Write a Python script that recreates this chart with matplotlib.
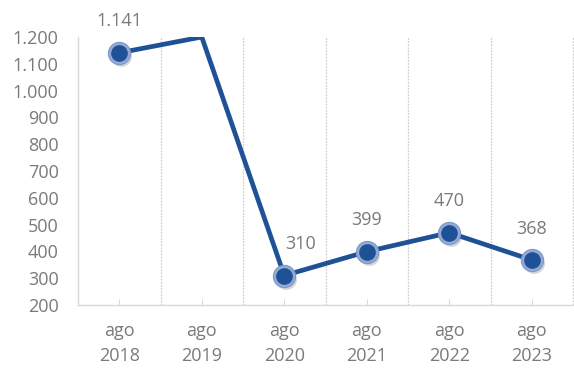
import matplotlib.pyplot as plt
from matplotlib.transforms import ScaledTranslation

# data
labels = ['ago\n2018', 'ago\n2019', 'ago\n2020', 'ago\n2021', 'ago\n2022', 'ago\n2023']
values = [1141, 1200, 310, 399, 470, 368]
show_point = [True, False, True, True, True, True]
label_dx = [0, 0, 12, 0, 0, 0]   # the 310 label sits to the right of its point

line_col = '#1f5196'
halo_col = '#93abd4'
txt_col = '#7a7a7a'
axis_col = '#d9d9d9'

plt.rcParams['font.family'] = ['Open Sans', 'DejaVu Sans']

fig = plt.figure(figsize=(5.74, 3.68), dpi=100)
ax = fig.add_axes([78 / 574, 63 / 368, 495.5 / 574, 268 / 368])

x = list(range(len(values)))
ax.plot(x, values, color=line_col, lw=3.4, solid_joinstyle='miter', zorder=3)

px = [i for i in x if show_point[i]]
py = [values[i] for i in x if show_point[i]]

# shadow, halo and dot
shadow = ax.transData + ScaledTranslation(2 / 100, -3 / 100, fig.dpi_scale_trans)
ax.plot(px, py, 'o', ms=15, color='#8c8c8c', alpha=0.35, mec='none', zorder=2,
        transform=shadow)
ax.plot(px, py, 'o', ms=16, color=halo_col, mec='#7d98c9', mew=0.8, zorder=4)
ax.plot(px, py, 'o', ms=12, color=line_col, mec='none', zorder=5)

for i in px:
    lbl = f'{values[i]:,}'.replace(',', '.')
    ax.annotate(lbl, (i, values[i]), xytext=(label_dx[i], 19), textcoords='offset points',
                ha='center', va='baseline', fontsize=13, color=txt_col)

ax.set_xlim(-0.5, 5.506)
ax.set_ylim(200, 1200)
ax.set_yticks(range(200, 1201, 100))
ax.set_yticklabels([f'{v:,}'.replace(',', '.') for v in range(200, 1201, 100)])
ax.set_xticks(x)
ax.set_xticklabels(labels, linespacing=1.55)

for b in [0.5, 1.5, 2.5, 3.5, 4.5, 5.5]:
    ax.axvline(b, color='#cfcfcf', lw=0.9, ls=(0, (1.5, 1)), zorder=1)

for s in ['top', 'right']:
    ax.spines[s].set_visible(False)
for s in ['left', 'bottom']:
    ax.spines[s].set_color(axis_col)
    ax.spines[s].set_linewidth(1.0)

ax.tick_params(axis='y', length=0, pad=14, labelsize=13, labelcolor=txt_col)
ax.tick_params(axis='x', direction='in', length=4, color=axis_col, pad=12,
               labelsize=13, labelcolor=txt_col)

fig.savefig('out.png', dpi=100)
